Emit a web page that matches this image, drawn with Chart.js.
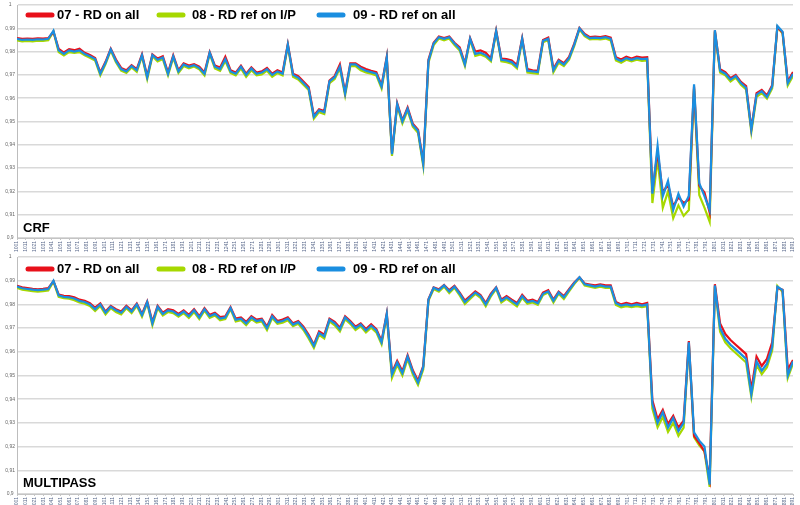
<!DOCTYPE html>
<html>
<head>
<meta charset="utf-8">
<style>
  body { margin: 0; background: #fff; }
  #wrap { position: relative; width: 800px; height: 505px; }
  .box { position: absolute; left: 0; width: 800px; }
</style>
</head>
<body>
<script src="https://cdn.jsdelivr.net/npm/chart.js"></script>
<div id="wrap">
  <div class="box" style="top:0;height:252px"><canvas id="crfChart"></canvas></div>
  <div class="box" style="top:252px;height:253px"><canvas id="mpChart"></canvas></div>
</div>

<script>
const seriesNames = ['07 - RD on all', '08 - RD ref on I/P', '09 - RD ref on all'];

const tickLabels = [
  '1001','1011','1021','1031','1041','1051','1061','1071','1081','1091',
  '1101','1111','1121','1131','1141','1151','1161','1171','1181','1191',
  '1201','1211','1221','1231','1241','1251','1261','1271','1281','1291',
  '1301','1311','1321','1331','1341','1351','1361','1371','1381','1391',
  '1401','1411','1421','1431','1441','1451','1461','1471','1481','1491',
  '1501','1511','1521','1531','1541','1551','1561','1571','1581','1591',
  '1601','1611','1621','1631','1641','1651','1661','1671','1681','1691',
  '1701','1711','1721','1731','1741','1751','1761','1771','1781','1791',
  '1801','1811','1821','1831','1841','1851','1861','1871','1881','1891'
];

// CRF
const crfRed = [
  0.9858,0.9855,0.9856,0.9855,0.9857,0.9856,0.9858,0.9885,0.9812,0.9796,
  0.9810,0.9806,0.9812,0.9795,0.9785,0.9772,0.9710,0.9756,0.9812,0.9766,
  0.9730,0.9720,0.9742,0.9725,0.9788,0.9695,0.9788,0.9770,0.9780,0.9710,
  0.9784,0.9720,0.9750,0.9740,0.9746,0.9735,0.9710,0.9798,0.9740,0.9732,
  0.9778,0.9720,0.9710,0.9740,0.9705,0.9732,0.9710,0.9715,0.9730,0.9705,
  0.9720,0.9710,0.9832,0.9705,0.9695,0.9672,0.9648,0.9525,0.9552,0.9545,
  0.9676,0.9695,0.9745,0.9625,0.9750,0.9750,0.9735,0.9725,0.9718,0.9712,
  0.9655,0.9778,0.9365,0.9578,0.9505,0.9560,0.9490,0.9465,0.9325,0.9765,
  0.9838,0.9865,0.9858,0.9865,0.9838,0.9818,0.9750,0.9858,0.9800,0.9805,
  0.9795,0.9770,0.9890,0.9770,0.9768,0.9762,0.9742,0.9858,0.9725,0.9720,
  0.9718,0.9850,0.9860,0.9726,0.9765,0.9750,0.9777,0.9834,0.9902,0.9876,
  0.9862,0.9864,0.9862,0.9866,0.9860,0.9776,0.9766,0.9778,0.9770,0.9778,
  0.9774,0.9776,0.9200,0.9370,0.9195,0.9230,0.9135,0.9175,0.9150,0.9165,
  0.9650,0.9225,0.9195,0.9110,0.9890,0.9724,0.9712,0.9686,0.9700,0.9670,
  0.9652,0.9470,0.9622,0.9636,0.9612,0.9656,0.9905,0.9882,0.9672,0.9712
];
const crfGreen = [
  0.9848,0.9844,0.9846,0.9844,0.9847,0.9846,0.9849,0.9886,0.9798,0.9784,
  0.9798,0.9794,0.9798,0.9784,0.9774,0.9762,0.9698,0.9746,0.9805,0.9754,
  0.9718,0.9708,0.9732,0.9713,0.9780,0.9682,0.9780,0.9758,0.9768,0.9698,
  0.9774,0.9708,0.9738,0.9728,0.9736,0.9724,0.9698,0.9790,0.9728,0.9718,
  0.9760,0.9708,0.9698,0.9728,0.9692,0.9720,0.9698,0.9702,0.9718,0.9692,
  0.9708,0.9698,0.9825,0.9692,0.9680,0.9658,0.9635,0.9512,0.9540,0.9532,
  0.9665,0.9682,0.9728,0.9612,0.9738,0.9738,0.9720,0.9710,0.9705,0.9698,
  0.9642,0.9770,0.9352,0.9568,0.9492,0.9548,0.9478,0.9452,0.9310,0.9752,
  0.9828,0.9856,0.9848,0.9856,0.9828,0.9805,0.9738,0.9850,0.9782,0.9788,
  0.9778,0.9758,0.9884,0.9758,0.9755,0.9748,0.9728,0.9850,0.9710,0.9708,
  0.9705,0.9840,0.9850,0.9712,0.9752,0.9738,0.9765,0.9824,0.9896,0.9866,
  0.9852,0.9854,0.9852,0.9856,0.9848,0.9762,0.9752,0.9765,0.9758,0.9765,
  0.9760,0.9762,0.9150,0.9340,0.9130,0.9200,0.9085,0.9140,0.9095,0.9120,
  0.9640,0.9185,0.9130,0.9070,0.9885,0.9710,0.9698,0.9672,0.9688,0.9658,
  0.9638,0.9455,0.9606,0.9622,0.9598,0.9642,0.9905,0.9878,0.9655,0.9695
];
const crfBlue = [
  0.9855,0.9850,0.9852,0.9850,0.9853,0.9852,0.9855,0.9890,0.9805,0.9790,
  0.9805,0.9800,0.9805,0.9790,0.9780,0.9768,0.9705,0.9752,0.9810,0.9760,
  0.9725,0.9715,0.9738,0.9720,0.9785,0.9690,0.9785,0.9765,0.9775,0.9705,
  0.9780,0.9715,0.9745,0.9735,0.9742,0.9730,0.9705,0.9795,0.9735,0.9725,
  0.9768,0.9715,0.9705,0.9735,0.9700,0.9728,0.9705,0.9710,0.9725,0.9700,
  0.9715,0.9705,0.9830,0.9700,0.9688,0.9665,0.9642,0.9520,0.9548,0.9540,
  0.9672,0.9690,0.9735,0.9620,0.9745,0.9745,0.9728,0.9718,0.9712,0.9705,
  0.9650,0.9775,0.9360,0.9575,0.9500,0.9555,0.9485,0.9460,0.9318,0.9760,
  0.9835,0.9862,0.9855,0.9862,0.9835,0.9812,0.9745,0.9855,0.9790,0.9795,
  0.9785,0.9765,0.9888,0.9765,0.9762,0.9755,0.9735,0.9855,0.9718,0.9715,
  0.9712,0.9846,0.9855,0.9720,0.9760,0.9745,0.9772,0.9830,0.9900,0.9872,
  0.9858,0.9860,0.9858,0.9862,0.9855,0.9770,0.9760,0.9772,0.9765,0.9772,
  0.9768,0.9770,0.9190,0.9395,0.9180,0.9245,0.9120,0.9190,0.9135,0.9180,
  0.9660,0.9235,0.9180,0.9120,0.9892,0.9718,0.9705,0.9680,0.9695,0.9665,
  0.9645,0.9465,0.9615,0.9630,0.9605,0.9650,0.9910,0.9885,0.9665,0.9705
];

// MULTIPASS
const mpRed = [
  0.9878,0.9872,0.9869,0.9866,0.9864,0.9866,0.9869,0.9898,0.9842,0.9836,
  0.9835,0.9830,0.9820,0.9815,0.9805,0.9786,0.9804,0.9770,0.9794,0.9780,
  0.9770,0.9794,0.9775,0.9804,0.9760,0.9812,0.9726,0.9794,0.9765,0.9780,
  0.9775,0.9760,0.9775,0.9756,0.9780,0.9750,0.9784,0.9756,0.9765,0.9746,
  0.9750,0.9788,0.9740,0.9745,0.9726,0.9750,0.9736,0.9740,0.9706,0.9755,
  0.9730,0.9736,0.9745,0.9720,0.9730,0.9706,0.9672,0.9630,0.9686,0.9672,
  0.9740,0.9726,0.9702,0.9750,0.9730,0.9706,0.9720,0.9696,0.9716,0.9696,
  0.9646,0.9762,0.9512,0.9562,0.9518,0.9586,0.9522,0.9478,0.9540,0.9822,
  0.9872,0.9864,0.9882,0.9860,0.9878,0.9850,0.9816,0.9835,0.9855,0.9840,
  0.9806,0.9845,0.9872,0.9820,0.9835,0.9820,0.9806,0.9840,0.9815,0.9820,
  0.9810,0.9850,0.9860,0.9820,0.9854,0.9835,0.9864,0.9892,0.9914,0.9888,
  0.9884,0.9880,0.9884,0.9880,0.9880,0.9810,0.9800,0.9806,0.9800,0.9806,
  0.9800,0.9806,0.9395,0.9315,0.9355,0.9295,0.9330,0.9280,0.9310,0.9645,
  0.9245,0.9215,0.9180,0.9065,0.9885,0.9720,0.9675,0.9650,0.9630,0.9610,
  0.9590,0.9440,0.9580,0.9540,0.9570,0.9640,0.9870,0.9862,0.9525,0.9565
];
const mpGreen = [
  0.9870,0.9862,0.9859,0.9856,0.9854,0.9856,0.9859,0.9896,0.9832,0.9826,
  0.9824,0.9818,0.9808,0.9803,0.9793,0.9772,0.9793,0.9758,0.9784,0.9768,
  0.9758,0.9784,0.9763,0.9794,0.9748,0.9805,0.9712,0.9784,0.9753,0.9768,
  0.9763,0.9748,0.9763,0.9743,0.9768,0.9738,0.9774,0.9743,0.9753,0.9733,
  0.9738,0.9780,0.9728,0.9733,0.9712,0.9738,0.9723,0.9728,0.9692,0.9743,
  0.9718,0.9723,0.9733,0.9708,0.9718,0.9692,0.9656,0.9616,0.9672,0.9656,
  0.9728,0.9712,0.9686,0.9738,0.9718,0.9692,0.9708,0.9682,0.9702,0.9682,
  0.9632,0.9752,0.9490,0.9545,0.9500,0.9570,0.9505,0.9460,0.9525,0.9815,
  0.9865,0.9854,0.9875,0.9848,0.9870,0.9838,0.9802,0.9823,0.9844,0.9828,
  0.9792,0.9834,0.9866,0.9808,0.9823,0.9808,0.9792,0.9828,0.9803,0.9808,
  0.9798,0.9840,0.9850,0.9808,0.9845,0.9823,0.9855,0.9886,0.9912,0.9880,
  0.9875,0.9870,0.9875,0.9870,0.9870,0.9798,0.9788,0.9793,0.9788,0.9793,
  0.9788,0.9793,0.9360,0.9282,0.9325,0.9262,0.9300,0.9245,0.9280,0.9632,
  0.9240,0.9205,0.9180,0.9030,0.9875,0.9685,0.9640,0.9615,0.9595,0.9575,
  0.9555,0.9410,0.9545,0.9505,0.9535,0.9605,0.9878,0.9852,0.9490,0.9550
];
const mpBlue = [
  0.9875,0.9868,0.9865,0.9862,0.9860,0.9862,0.9865,0.9900,0.9838,0.9832,
  0.9830,0.9825,0.9815,0.9810,0.9800,0.9780,0.9800,0.9765,0.9790,0.9775,
  0.9765,0.9790,0.9770,0.9800,0.9755,0.9810,0.9720,0.9790,0.9760,0.9775,
  0.9770,0.9755,0.9770,0.9750,0.9775,0.9745,0.9780,0.9750,0.9760,0.9740,
  0.9745,0.9785,0.9735,0.9740,0.9720,0.9745,0.9730,0.9735,0.9700,0.9750,
  0.9725,0.9730,0.9740,0.9715,0.9725,0.9700,0.9665,0.9625,0.9680,0.9665,
  0.9735,0.9720,0.9695,0.9745,0.9725,0.9700,0.9715,0.9690,0.9710,0.9690,
  0.9640,0.9760,0.9505,0.9555,0.9510,0.9580,0.9515,0.9470,0.9535,0.9820,
  0.9870,0.9860,0.9880,0.9855,0.9875,0.9845,0.9810,0.9830,0.9850,0.9835,
  0.9800,0.9840,0.9870,0.9815,0.9830,0.9815,0.9800,0.9835,0.9810,0.9815,
  0.9805,0.9845,0.9855,0.9815,0.9850,0.9830,0.9860,0.9890,0.9915,0.9885,
  0.9880,0.9875,0.9880,0.9875,0.9875,0.9805,0.9795,0.9800,0.9795,0.9800,
  0.9795,0.9800,0.9380,0.9300,0.9345,0.9280,0.9320,0.9265,0.9300,0.9640,
  0.9260,0.9225,0.9200,0.9040,0.9880,0.9700,0.9655,0.9630,0.9610,0.9590,
  0.9570,0.9420,0.9560,0.9520,0.9550,0.9620,0.9875,0.9860,0.9500,0.9560
];

const colors = ['#e8101a', '#a6d800', '#1a8ee0'];
const FONT = '"Liberation Sans", Arial, sans-serif';

// legend and panel title drawn over the plot area, like the original
const overlay = {
  id: 'overlay',
  afterDraw(chart, args, opts) {
    const ctx = chart.ctx;
    ctx.save();
    ctx.font = 'bold 13px ' + FONT;
    ctx.textBaseline = 'middle';
    ctx.lineCap = 'round';
    ctx.lineWidth = 5;
    const swatchX = [28, 159, 319];
    const textX = [57, 192, 353];
    for (let i = 0; i < seriesNames.length; i++) {
      ctx.strokeStyle = colors[i];
      ctx.beginPath();
      ctx.moveTo(swatchX[i], opts.legendY);
      ctx.lineTo(swatchX[i] + 24, opts.legendY);
      ctx.stroke();
      ctx.fillStyle = '#000';
      ctx.fillText(seriesNames[i], textX[i], opts.legendY + 0.5);
    }
    ctx.fillText(opts.title, 23, opts.titleY);
    ctx.restore();
  }
};

function toPoints(values) {
  return values.map((v, i) => ({ x: i, y: v }));
}

function makeChart(id, red, green, blue, padTop, xAxisH, title, legendY, titleY) {
  const last = blue.length - 1;
  const sets = [red, green, blue].map((vals, i) => ({
    label: seriesNames[i],
    data: toPoints(vals),
    borderColor: colors[i],
    backgroundColor: colors[i],
    borderWidth: 2.2,
    pointRadius: 0,
    tension: 0,
    order: [2, 3, 1][i]
  }));
  return new Chart(document.getElementById(id), {
    type: 'line',
    data: { datasets: sets },
    plugins: [overlay],
    options: {
      responsive: true,
      maintainAspectRatio: false,
      animation: false,
      layout: { padding: { top: padTop, right: 3, left: 0, bottom: 0 } },
      plugins: {
        legend: { display: false },
        tooltip: { enabled: false },
        overlay: { title: title, legendY: legendY, titleY: titleY }
      },
      scales: {
        x: {
          type: 'linear',
          min: 0,
          max: last,
          afterBuildTicks: s => {
            s.ticks = tickLabels.map((t, k) => ({ value: k * last / (tickLabels.length - 1) }));
          },
          afterFit: s => { s.height = xAxisH; },
          ticks: {
            autoSkip: false,
            minRotation: 90,
            maxRotation: 90,
            padding: 1,
            color: '#5b6a8c',
            font: { size: 5, family: FONT },
            callback: (v, k) => tickLabels[k]
          },
          grid: { drawOnChartArea: false, tickLength: 2, color: '#c4c4c4' },
          border: { color: '#c4c4c4' }
        },
        y: {
          min: 0.9,
          max: 1,
          afterFit: s => { s.width = 17; },
          ticks: {
            stepSize: 0.01,
            crossAlign: 'center',
            padding: 2,
            color: '#666',
            font: { size: 5, family: FONT },
            callback: v => String(Math.round(v * 100) / 100).replace('.', ',')
          },
          grid: { color: '#d9d9d9', lineWidth: 1.5, drawTicks: false },
          border: { color: '#bdbdbd' }
        }
      }
    }
  });
}

makeChart('crfChart', crfRed, crfGreen, crfBlue, 1, 14, 'CRF', 15, 228);
makeChart('mpChart', mpRed, mpGreen, mpBlue, 5, 11, 'MULTIPASS', 17, 231);
</script>
</body>
</html>
